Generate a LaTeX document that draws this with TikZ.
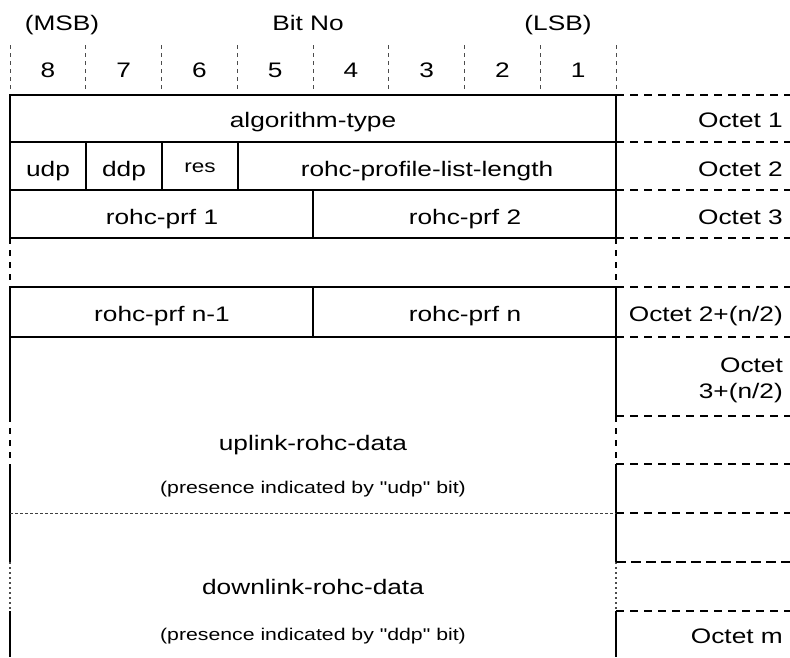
\documentclass[tikz,border=0pt]{standalone}
\usepackage{fontspec}
\setmainfont[FakeStretch=1.25,Ligatures=TeXOff]{Liberation Sans}
\begin{document}
\begin{tikzpicture}[x=1pt,y=-1pt,
  boxline/.style={line width=2pt},
  vdash/.style={line width=2pt,dash pattern=on 6pt off 6pt},
  vdot/.style={line width=1.4pt,black!70,dash pattern=on 2pt off 3pt},
  rdash/.style={line width=2pt,dash pattern=on 8pt off 6pt},
  rthin/.style={line width=1.2pt,dash pattern=on 10pt off 5pt},
  sepdash/.style={line width=1pt,black!75,dash pattern=on 3pt off 2pt},
  hdr/.style={line width=1pt,black!70,dash pattern=on 4pt off 4pt},
  lbl/.style={anchor=base,inner sep=0pt,font=\fontsize{21}{25}\selectfont},
  reslbl/.style={anchor=base,inner sep=0pt,font=\fontsize{18}{22}\selectfont},
  small/.style={anchor=base,inner sep=0pt,font=\fontsize{17}{20}\selectfont},
  octlbl/.style={anchor=base east,inner sep=0pt,font=\fontsize{21}{25}\selectfont}]
\useasboundingbox (0,0) rectangle (790,657);
% header
\node[lbl] (msb) at (62,30) {(MSB)};
\node[lbl] (bitno) at (308,30) {Bit No};
\node[lbl] (lsb) at (558,30) {(LSB)};
\foreach \i in {0,...,8} {
  \draw[hdr] ({10+75.75*\i},45) -- ({10+75.75*\i},91);
}
\foreach \i/\b in {0/8,1/7,2/6,3/5,4/4,5/3,6/2,7/1} {
  \node[lbl] (bit\b) at ({47.9+75.75*\i},77) {\b};
}
% horizontal solid lines
\foreach \y in {95,142,190,238,287,337} {
  \draw[boxline] (9,\y) -- (616,\y);
}
% left edge and divider
\foreach \x in {10,616} {
  \draw[boxline] (\x,94) -- (\x,238);
  \draw[vdash] (\x,238) -- (\x,287);
  \draw[boxline] (\x,287) -- (\x,416);
  \draw[vdash] (\x,416) -- (\x,464);
  \draw[boxline] (\x,464) -- (\x,562);
  \draw[vdot] (\x,562) -- (\x,611);
  \draw[boxline] (\x,611) -- (\x,657);
}
% right column dashed lines
\foreach \y in {95,142,190,238,287,337,416,464,513,611} {
  \draw[rdash] (616,\y) -- (790,\y);
}
\draw[rthin] (616,562) -- (790,562);
% thin separator
\draw[sepdash] (10,513) -- (616,513);
% inner verticals
\draw[boxline] (86,142) -- (86,190);
\draw[boxline] (162,142) -- (162,190);
\draw[boxline] (238,142) -- (238,190);
\draw[boxline] (313,190) -- (313,238);
\draw[boxline] (313,287) -- (313,337);
% texts
\node[lbl] (alg) at (313,127) {algorithm-type};
\node[lbl] (udp) at (48,176) {udp};
\node[lbl] (ddp) at (124,176) {ddp};
\node[reslbl] (res) at (200,172) {res};
\node[lbl] (len) at (427,176) {rohc-profile-list-length};
\node[lbl] (prf1) at (162,224) {rohc-prf 1};
\node[lbl] (prf2) at (465,224) {rohc-prf 2};
\node[lbl] (prfn1) at (162,321) {rohc-prf n-1};
\node[lbl] (prfn) at (465,321) {rohc-prf n};
\node[lbl] (up) at (313,450) {uplink-rohc-data};
\node[small] (upnote) at (313,493) {(presence indicated by "udp" bit)};
\node[lbl] (down) at (313,594) {downlink-rohc-data};
\node[small] (downnote) at (313,640) {(presence indicated by "ddp" bit)};
% octet labels
\node[octlbl] (o1) at (783,127) {Octet 1};
\node[octlbl] (o2) at (783,176) {Octet 2};
\node[octlbl] (o3) at (783,224) {Octet 3};
\node[octlbl] (on) at (783,321) {Octet 2+(n/2)};
\node[octlbl] (on3a) at (783,372) {Octet};
\node[octlbl] (on3b) at (783,398) {3+(n/2)};
\node[octlbl] (om) at (783,643) {Octet m};
\end{tikzpicture}
\end{document}
